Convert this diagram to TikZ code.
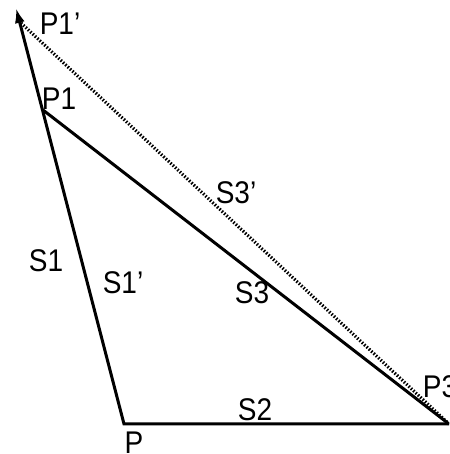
\documentclass[tikz,border=0pt]{standalone}
\usepackage{fontspec}
\setmainfont{Liberation Sans}
\usetikzlibrary{arrows.meta}
\begin{document}
\begin{tikzpicture}[x=1pt,y=1pt,
  solidline/.style={line width=3pt,black},
  dotline/.style={line width=3.2pt,black,dash pattern=on 1.5pt off 1.7pt},
  lbl/.style={font=\fontsize{28}{32}\selectfont,inner sep=0pt,anchor=center}]
\useasboundingbox (0,0) rectangle (449,454);
\clip (0,0) rectangle (449,454);
\fill[white] (0,0) rectangle (449,454);
% points
\coordinate (P) at (124,30);
\coordinate (P3) at (449,30);
\coordinate (P1) at (43,344);
\coordinate (P1p) at (16,446);
\coordinate (P1d) at (21,431);
% lines
\draw[dotline] (P1d) -- (P3);
\draw[solidline] (P1) -- (P3);
\draw[solidline,line join=miter,-{Latex[length=15pt,width=10pt]}] (P3) -- (P) -- (P1p);
% labels
\node[lbl] (lP1p) at (60,430) {\scalebox{1}[1.12]{P1'}};
\node[lbl] (lP1) at (59,355) {\scalebox{1}[1.12]{P1}};
\node[lbl] (lS3p) at (236,261) {\scalebox{1}[1.12]{S3'}};
\node[lbl] (lS1) at (46,193) {\scalebox{1}[1.12]{S1}};
\node[lbl] (lS1p) at (123,171) {\scalebox{1}[1.12]{S1'}};
\node[lbl] (lS3) at (252,161) {\scalebox{1}[1.12]{S3}};
\node[lbl] (lS2) at (255,44) {\scalebox{1}[1.12]{S2}};
\node[lbl] (lP) at (134,11) {\scalebox{1}[1.12]{P}};
\node[lbl] (lP3) at (440,67) {\scalebox{1}[1.12]{P3}};
\end{tikzpicture}
\end{document}
